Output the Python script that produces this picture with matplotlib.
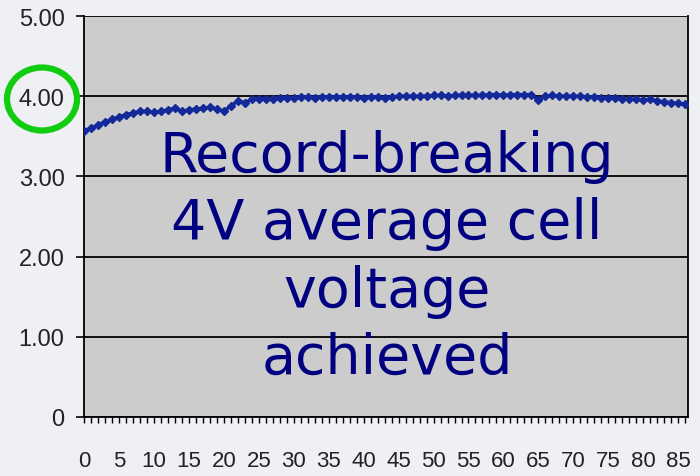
"""Average cell voltage per cycle, with highlighted 4V label."""

import matplotlib
matplotlib.use("Agg")
import matplotlib.pyplot as plt
from matplotlib.patches import Ellipse
from matplotlib.ticker import MultipleLocator

# cycle number and average cell voltage (V)
cycles = list(range(87))
voltage = [
    3.57, 3.60, 3.64, 3.68, 3.71, 3.74, 3.77, 3.79, 3.81, 3.81,
    3.80, 3.81, 3.83, 3.85, 3.81, 3.83, 3.84, 3.85, 3.86, 3.84,
    3.81, 3.88, 3.94, 3.92, 3.96, 3.97, 3.97, 3.97, 3.98, 3.98,
    3.98, 3.99, 3.99, 3.98, 3.99, 3.99, 3.99, 3.99, 3.99, 3.99,
    3.98, 3.99, 3.99, 3.98, 3.99, 4.00, 4.00, 4.00, 4.00, 4.00,
    4.01, 4.01, 4.00, 4.01, 4.01, 4.01, 4.01, 4.01, 4.02, 4.02,
    4.01, 4.02, 4.02, 4.02, 4.02, 3.95, 4.00, 4.01, 4.00, 4.00,
    4.00, 4.00, 3.99, 3.99, 3.98, 3.98, 3.98, 3.97, 3.96, 3.96,
    3.95, 3.96, 3.94, 3.93, 3.92, 3.91, 3.90,
]
y_ticks = [0, 1, 2, 3, 4, 5]
y_labels = ["0", "1.00", "2.00", "3.00", "4.00", "5.00"]
x_ticks = list(range(0, 90, 5))
caption = "Record-breaking\n4V average cell\nvoltage\nachieved"

fig = plt.figure(figsize=(7, 4.77), dpi=100, facecolor="#eef0f3")
ax = fig.add_axes([84 / 700, 59 / 477, 604 / 700, 401 / 477])
ax.set_facecolor("#cccccc")

ax.plot(cycles, voltage, color="#13299a", lw=2.5, marker="D", ms=4.2,
        mec="#13299a", mfc="#13299a", zorder=3)

ax.set_xlim(0, 86.4)
ax.set_ylim(0, 5)
ax.set_yticks(y_ticks)
ax.set_yticklabels(y_labels)
ax.set_xticks(x_ticks)
ax.xaxis.set_minor_locator(MultipleLocator(1))
ax.grid(axis="y", color="black", lw=1.3, zorder=1)
for side in ax.spines.values():
    side.set_color("black")
    side.set_linewidth(1.3)
ax.spines["top"].set_visible(False)

tick_family = ["Liberation Sans", "DejaVu Sans"]
ax.tick_params(axis="y", length=6, width=1.2, pad=8, labelsize=17,
               labelcolor="#222222")
ax.tick_params(axis="x", which="both", length=4, width=1, pad=20,
               labelsize=16, labelcolor="#222222")
for lab in ax.get_xticklabels() + ax.get_yticklabels():
    lab.set_fontfamily(tick_family)

fig.text(387 / 700, 1 - 258 / 477, caption, ha="center", va="center",
         color="#000080", fontsize=40, linespacing=1.31,
         family=["DejaVu Sans"])

ring = Ellipse((42 / 700, 1 - 100 / 477), 70 / 700, 63 / 477,
               transform=fig.transFigure, fill=False, ec="#11cc11", lw=4.5)
fig.add_artist(ring)

fig.savefig("out.png", dpi=100, facecolor=fig.get_facecolor())
